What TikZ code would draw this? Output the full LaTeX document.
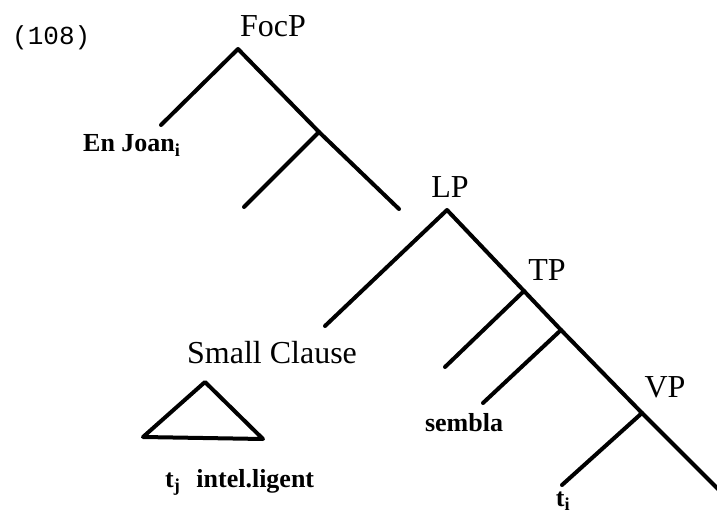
\documentclass[tikz,border=0pt]{standalone}
\usepackage{fontspec}
\setmainfont{Liberation Serif}
\newfontfamily\exmono{Liberation Mono}
\tikzset{
  branch/.style={line width=4pt, line cap=round, line join=round},
  cat/.style={font=\fontsize{32}{32}\selectfont, inner sep=0pt, anchor=base},
  lex/.style={font=\bfseries\fontsize{26}{26}\selectfont, inner sep=0pt, anchor=base},
  lexw/.style={lex, anchor=base west},
  exnum/.style={font=\exmono\fontsize{26}{26}\selectfont, inner sep=0pt, anchor=base west}
}
\begin{document}
\begin{tikzpicture}[x=1pt,y=-1pt]
\useasboundingbox (0,0) rectangle (717,513);
\fill[white] (0,0) rectangle (717,513);

% labels
\node[exnum] (num) at (12,45) {(108)};
\node[cat] (focp) at (273,37) {FocP};
\node[cat] (lp) at (450,197) {LP};
\node[cat] (tp) at (547,280) {TP};
\node[cat] (vp) at (665,397) {VP};
\node[cat] (sc) at (272,363) {Small Clause};
\node[lexw] (joan) at (83,152) {En Joan\textsubscript{i}};
\node[lex] (sembla) at (464,431) {sembla};
\node[lexw] (intel) at (165,487) {t\textsubscript{j}\hspace{16pt}intel.ligent};
\node[lex] (ti) at (563,506) {t\textsubscript{i}};

% joints
\coordinate (F) at (238,49);
\coordinate (Fl) at (161,125);
\coordinate (F1) at (319,132);
\coordinate (F1l) at (244,207);
\coordinate (F1r) at (399,209);
\coordinate (L) at (447,210);
\coordinate (Ll) at (325,326);
\coordinate (T) at (524,291);
\coordinate (Tl) at (445,367);
\coordinate (T1) at (561,330);
\coordinate (T1l) at (483,403);
\coordinate (V) at (642,413);
\coordinate (Vl) at (562,485);
\coordinate (Vr) at (722,493);
\coordinate (Ta) at (205,382);
\coordinate (Tb) at (143,437);
\coordinate (Tc) at (263,439);

% FocP subtree
\draw[branch] (Fl) -- (F) -- (F1) -- (F1r);
\draw[branch] (F1) -- (F1l);
% LP subtree
\draw[branch] (Ll) -- (L) -- (T) -- (T1) -- (V) -- (Vr);
\draw[branch] (T) -- (Tl);
\draw[branch] (T1) -- (T1l);
\draw[branch] (V) -- (Vl);
% small clause triangle
\draw[branch] (Ta) -- (Tb) -- (Tc) -- cycle;
\end{tikzpicture}
\end{document}
